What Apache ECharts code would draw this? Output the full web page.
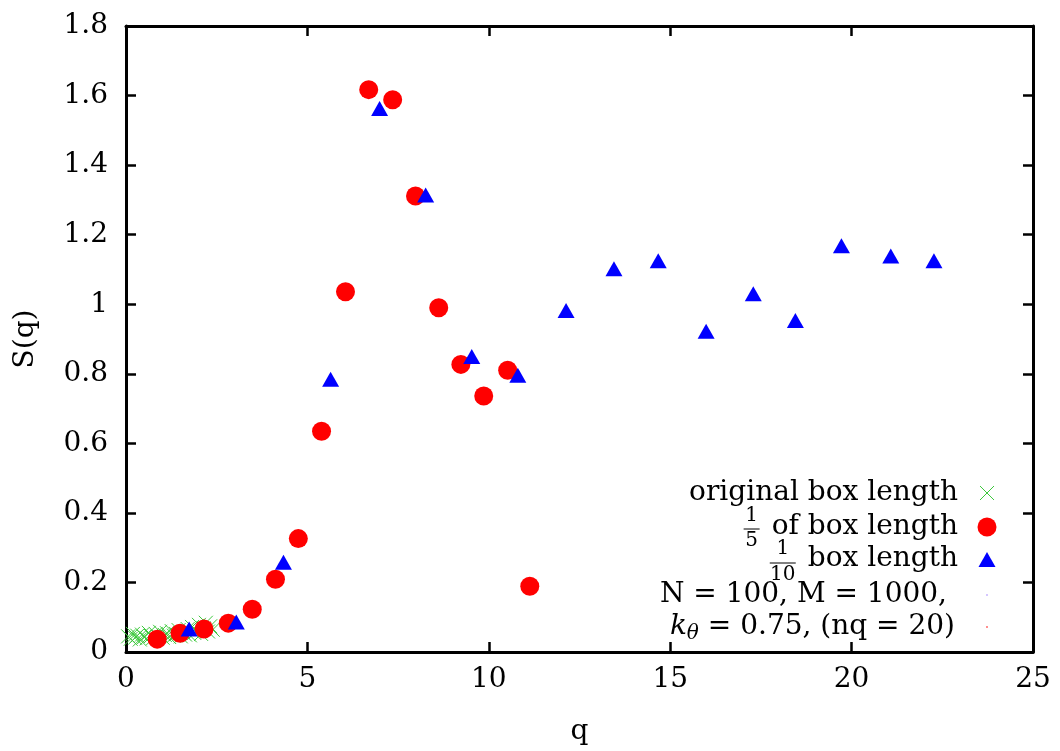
<!DOCTYPE html>
<html>
<head>
<meta charset="utf-8">
<script src="https://cdn.jsdelivr.net/npm/echarts@6/dist/echarts.min.js"></script>
<style>
html,body{margin:0;padding:0;background:#fff;}
#chart{width:1060px;height:751px;}
</style>
</head>
<body>
<div id="chart"></div>
<script>
// ---- data ----
const origQ = [0.06,0.13,0.19,0.25,0.31,0.38,0.44,0.50,0.57,0.63,0.69,0.75,0.82,0.88,0.94,1.01,1.07,1.13,1.19,1.26,1.32,1.38,1.45,1.51,1.57,1.63,1.70,1.76,1.82,1.88,1.95,2.01,2.07,2.14,2.20,2.26,2.32,2.39];
const origS = [0.045,0.038,0.052,0.041,0.047,0.036,0.050,0.043,0.039,0.055,0.046,0.040,0.052,0.044,0.058,0.041,0.049,0.054,0.043,0.060,0.047,0.052,0.063,0.045,0.057,0.050,0.066,0.048,0.072,0.055,0.061,0.078,0.052,0.068,0.084,0.059,0.074,0.064];

const fifthQ = [0.86,1.49,2.15,2.82,3.48,4.12,4.75,5.39,6.05,6.69,7.35,7.98,8.62,9.23,9.86,10.52,11.13];
const fifthS = [0.037,0.054,0.066,0.083,0.123,0.209,0.326,0.635,1.036,1.617,1.588,1.311,0.990,0.827,0.736,0.810,0.189];

const tenthQ = [1.74,3.04,4.34,5.64,6.99,8.26,9.53,10.80,12.13,13.45,14.67,15.99,17.29,18.45,19.72,21.08,22.27];
const tenthS = [0.066,0.086,0.258,0.784,1.563,1.314,0.850,0.796,0.982,1.102,1.125,0.922,1.030,0.953,1.168,1.139,1.125];

const xTicks = [0,5,10,15,20,25];
const yTicks = [0,0.2,0.4,0.6,0.8,1,1.2,1.4,1.6,1.8];

const legendLabels = {
  orig: 'original box length',
  fifth: 'of box length',
  tenth: 'box length',
  params1: 'N = 100, M = 1000,',
  params2: ' = 0.75, (nq = 20)'
};

const FONT = 'DejaVu Serif';
const FS = 28;

function zip(a,b){return a.map((v,i)=>[v,b[i]]);}

const mctx = document.createElement('canvas').getContext('2d');
function measure(t, size, style){
  mctx.font = (style||'normal') + ' ' + size + 'px "' + FONT + '"';
  return mctx.measureText(t).width;
}

const chart = echarts.init(document.getElementById('chart'), null, {renderer:'canvas'});

const axisLine = {show:true, onZero:false, lineStyle:{color:'#000', width:3}};
const axisTick = {show:true, inside:true, length:10, lineStyle:{color:'#000', width:2.5}};
const labelStyle = {color:'#000', fontFamily:FONT, fontSize:FS};

// legend graphics
const G = [];
const txtR = 958;
const symX = 987;
function textEl(x,y,text,size,align,style){
  return {type:'text', x:x, y:y, z:10, style:{text:text, fill:'#000', font:(style||'normal')+' '+size+'px "'+FONT+'"', textAlign:align||'right', textVerticalAlign:'middle'}};
}
function lineEl(x1,y1,x2,y2,color,w){
  return {type:'line', z:10, shape:{x1:x1,y1:y1,x2:x2,y2:y2}, style:{stroke:color, lineWidth:w}};
}
// row 1
G.push(textEl(txtR, 493, legendLabels.orig, FS));
G.push(lineEl(symX-7,486,symX+7,500,'#3cc83c',1));
G.push(lineEl(symX+7,486,symX-7,500,'#3cc83c',1));
// row 2 : 1/5 of box length
const w2 = measure(legendLabels.fifth, FS);
const fr2x = txtR - w2 - 20;
G.push(textEl(txtR, 527, legendLabels.fifth, FS));
G.push(textEl(fr2x, 516, '1', 20, 'center'));
G.push(lineEl(fr2x-8,529,fr2x+8,529,'#000',1));
G.push(textEl(fr2x, 541, '5', 20, 'center'));
G.push({type:'circle', z:10, shape:{cx:symX, cy:527, r:9.5}, style:{fill:'#ff0000'}});
// row 3 : 1/10 box length
const w3 = measure(legendLabels.tenth, FS);
const fr3x = txtR - w3 - 25;
G.push(textEl(txtR, 559, legendLabels.tenth, FS));
G.push(textEl(fr3x, 549, '1', 20, 'center'));
G.push(lineEl(fr3x-13,563,fr3x+13,563,'#000',1));
G.push(textEl(fr3x, 575, '10', 20, 'center'));
G.push({type:'polygon', z:10, shape:{points:[[symX-8.5,567],[symX+8.5,567],[symX,552]]}, style:{fill:'#0000ff'}});
// row 4
G.push(textEl(947, 595, legendLabels.params1, FS));
G.push({type:'circle', z:10, shape:{cx:symX, cy:595, r:0.8}, style:{fill:'#a080ff'}});
// row 5
const wRest = measure(legendLabels.params2, FS);
const wTh = measure('θ', 20, 'italic');
const wK = measure('k', FS, 'italic');
const startX = 955 - wRest - wTh - wK;
G.push(textEl(startX, 627, 'k', FS, 'left', 'italic'));
G.push(textEl(startX + wK, 634, 'θ', 20, 'left', 'italic'));
G.push(textEl(955, 627, legendLabels.params2, FS));
G.push({type:'circle', z:10, shape:{cx:symX, cy:627, r:0.8}, style:{fill:'#ff0000'}});

const option = {
  backgroundColor:'#fff',
  animation:false,
  grid:{left:126, right:27, top:26, bottom:96, containLabel:false},
  xAxis:[{
    type:'value', min:0, max:25, interval:5, position:'bottom',
    name:'q', nameLocation:'middle', nameGap:66,
    nameTextStyle:{color:'#000', fontFamily:FONT, fontSize:FS},
    axisLine:axisLine, axisTick:axisTick, splitLine:{show:false},
    axisLabel:Object.assign({margin:14, formatter:v=>xTicks.includes(v)?String(v):''}, labelStyle)
  },{
    type:'value', min:0, max:25, interval:5, position:'top',
    axisLine:axisLine, axisTick:axisTick, splitLine:{show:false}, axisLabel:{show:false}
  }],
  yAxis:[{
    type:'value', min:0, max:1.8, interval:0.2, position:'left',
    name:'S(q)', nameLocation:'middle', nameGap:86, nameRotate:90,
    nameTextStyle:{color:'#000', fontFamily:FONT, fontSize:FS},
    axisLine:axisLine, axisTick:axisTick, splitLine:{show:false},
    axisLabel:Object.assign({margin:18, formatter:v=>{
      const t = yTicks.find(y=>Math.abs(y-v)<1e-9);
      return t===undefined?'':String(t);
    }}, labelStyle)
  },{
    type:'value', min:0, max:1.8, interval:0.2, position:'right',
    axisLine:axisLine, axisTick:axisTick, splitLine:{show:false}, axisLabel:{show:false}
  }],
  series:[
    {name:'original box length', type:'scatter', data:zip(origQ,origS),
     symbol:'path://M0,0L10,10M10,0L0,10', symbolSize:14,
     itemStyle:{color:'rgba(0,0,0,0)', borderColor:'#3cc83c', borderWidth:1, opacity:1}, z:2},
    {name:'1/5 of box length', type:'scatter', data:zip(fifthQ,fifthS),
     symbol:'circle', symbolSize:19, itemStyle:{color:'#ff0000', opacity:1}, z:3},
    {name:'1/10 box length', type:'scatter', data:zip(tenthQ,tenthS),
     symbol:'triangle', symbolSize:[17,15], itemStyle:{color:'#0000ff', opacity:1}, z:4}
  ],
  graphic:G
};
chart.setOption(option);
</script>
</body>
</html>
